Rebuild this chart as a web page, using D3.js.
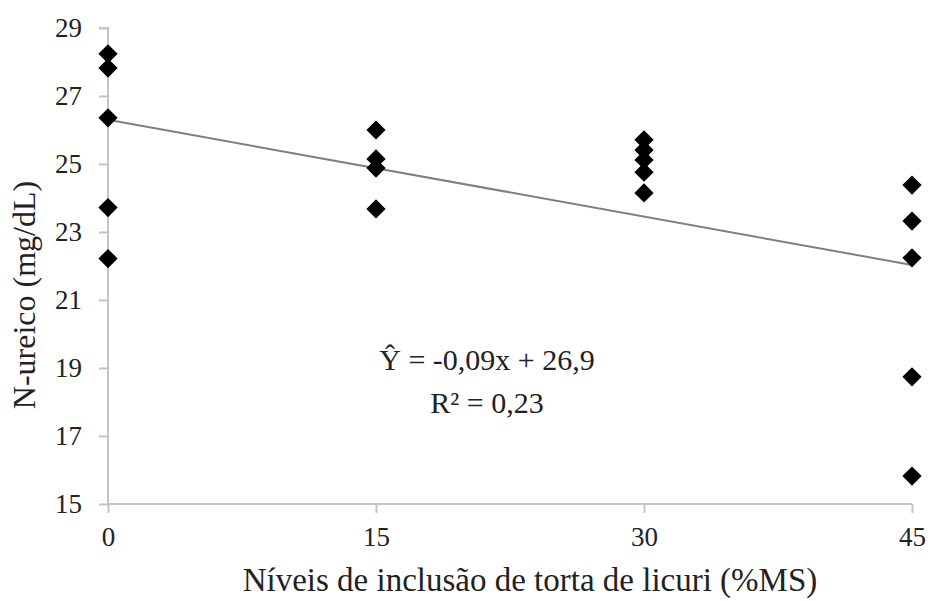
<!DOCTYPE html>
<html>
<head>
<meta charset="utf-8">
<script src="https://cdn.jsdelivr.net/npm/d3@7"></script>
<style>
  body { margin: 0; background: #fff; }
  text { font-family: "Liberation Serif", "Times New Roman", serif; fill: #222; }
</style>
</head>
<body>
<div id="chart"></div>
<script>
// inclusion levels and N-ureico values
const levels = [0, 15, 30, 45];
const values0 = [28.24, 27.82, 26.36, 23.72, 22.22];
const values15 = [26.0, 25.15, 24.88, 23.68];
const values30 = [25.71, 25.41, 25.12, 24.76, 24.15];
const values45 = [24.38, 23.32, 22.24, 18.74, 15.82];
const yTicks = [15, 17, 19, 21, 23, 25, 27, 29];
// fitted line as drawn
const trendX = [0, 45];
const trendY = [26.3, 22.03];

const width = 932, height = 601;
const margin = { left: 108, right: 20, top: 28, bottom: 97 };

const svg = d3.select("#chart").append("svg")
    .attr("width", width)
    .attr("height", height);

const x = d3.scaleLinear().domain([0, 45]).range([margin.left, 912]);
const y = d3.scaleLinear().domain([15, 29]).range([504, margin.top]);

const axisColor = "#c4c4c4";

// y axis
const yAxis = svg.append("g")
    .attr("transform", `translate(${x(0)},0)`)
    .call(d3.axisLeft(y).tickValues(yTicks).tickSize(9).tickPadding(17));
yAxis.selectAll("line, path").attr("stroke", axisColor).attr("stroke-width", 2);
yAxis.select(".domain").attr("d", `M-9,${y(29)}H0V${y(15)}`);
yAxis.selectAll("text").attr("font-size", 27).attr("font-family", "Liberation Serif").attr("fill", "#222");

// x axis
const xAxis = svg.append("g")
    .attr("transform", `translate(0,${y(15)})`)
    .call(d3.axisBottom(x).tickValues(levels).tickSize(9).tickPadding(14));
xAxis.selectAll("line, path").attr("stroke", axisColor).attr("stroke-width", 2);
xAxis.select(".domain").attr("d", `M${x(0)},0H${x(45)}`);
xAxis.selectAll("text").attr("font-size", 27).attr("font-family", "Liberation Serif").attr("fill", "#222");

// trend line
svg.append("path")
    .datum(trendX.map((d, i) => [d, trendY[i]]))
    .attr("fill", "none")
    .attr("stroke", "#7f7f7f")
    .attr("stroke-width", 2)
    .attr("d", d3.line().x(d => x(d[0])).y(d => y(d[1])));

// points
const points = [];
[values0, values15, values30, values45].forEach(function (vals, i) {
    vals.forEach(v => points.push({ lvl: levels[i], val: v }));
});

const diamond = d3.symbol().type(d3.symbolSquare).size(185);
svg.selectAll(".pt")
    .data(points)
    .enter().append("path")
    .attr("class", "pt")
    .attr("d", diamond)
    .attr("fill", "#000")
    .attr("transform", d => `translate(${x(d.lvl)},${y(d.val)}) rotate(45)`);

// equation
svg.append("text")
    .attr("x", 487).attr("y", 370)
    .attr("text-anchor", "middle")
    .attr("font-size", 30)
    .text("Ŷ = -0,09x + 26,9");
svg.append("text")
    .attr("x", 487).attr("y", 413)
    .attr("text-anchor", "middle")
    .attr("font-size", 30)
    .text("R² = 0,23");

// axis titles
svg.append("text")
    .attr("x", 530).attr("y", 591)
    .attr("text-anchor", "middle")
    .attr("font-size", 33)
    .text("Níveis de inclusão de torta de licuri (%MS)");

svg.append("text")
    .attr("transform", "translate(35,295) rotate(-90)")
    .attr("text-anchor", "middle")
    .attr("font-size", 32)
    .text("N-ureico (mg/dL)");
</script>
</body>
</html>
